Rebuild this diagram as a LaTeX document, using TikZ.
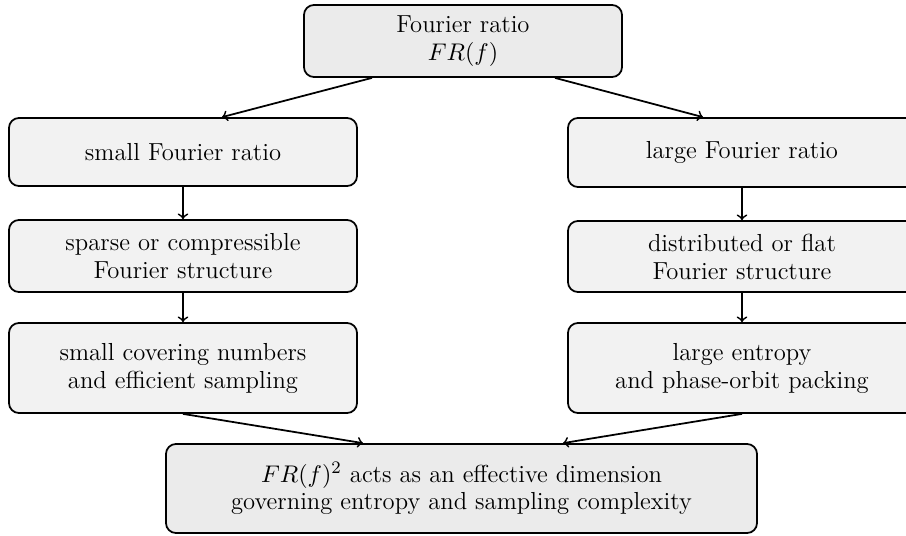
\documentclass[tikz,border=0pt]{standalone}
\usetikzlibrary{calc}
\begin{document}
\begin{tikzpicture}[x=0.4545pt,y=-0.4545pt,
  box/.style={draw=black, thick, rounded corners=4.5pt, align=center, inner sep=0pt, fill=black!5,
    font=\fontsize{11.2pt}{12.7pt}\selectfont},
  dark/.style={fill=black!8},
  colbox/.style={box, minimum width={348*0.4545pt}},
  arr/.style={->, thick}]
\useasboundingbox (0,0) rectangle (906,535);
% top
\node[box,dark,minimum width={318*0.4545pt},minimum height={72*0.4545pt}] (top) at (463,41) {Fourier ratio\\ $FR(f)$};
% left column
\node[colbox,minimum height={68*0.4545pt}] (small) at (183,152) {small Fourier ratio};
\node[colbox,minimum height={72*0.4545pt}] (sparse) at (183,256) {sparse or compressible\\ Fourier structure};
\node[colbox,minimum height={90*0.4545pt}] (cover) at (183,368) {small covering numbers\\ and efficient sampling};
% right column
\node[colbox,minimum height={69*0.4545pt}] (large) at (742,152.5) {large Fourier ratio};
\node[colbox,minimum height={71*0.4545pt}] (distr) at (742,256.5) {distributed or flat\\ Fourier structure};
\node[colbox,minimum height={90*0.4545pt}] (entropy) at (742,368) {large entropy\\ and phase-orbit packing};
% bottom
\node[box,dark,minimum width={591*0.4545pt},minimum height={89*0.4545pt}] (bottom) at (461.5,488.5) {$FR(f)^2$ acts as an effective dimension\\ governing entropy and sampling complexity};
% arrows
\draw[arr] ($(top.south)+(-91,0)$) -- ($(small.north)+(39,0)$);
\draw[arr] ($(top.south)+(92,0)$) -- ($(large.north)+(-39,0)$);
\draw[arr] (small) -- (sparse);
\draw[arr] (sparse) -- (cover);
\draw[arr] (large) -- (distr);
\draw[arr] (distr) -- (entropy);
\draw[arr] (cover.south) -- ($(bottom.north)+(-98.5,0)$);
\draw[arr] (entropy.south) -- ($(bottom.north)+(101.5,0)$);
\end{tikzpicture}
\end{document}
